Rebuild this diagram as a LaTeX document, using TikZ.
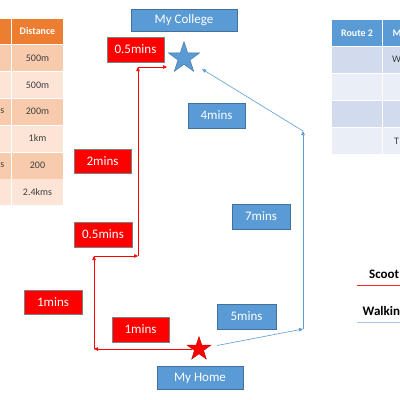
\documentclass[tikz,border=0pt]{standalone}
\usepackage{fontspec}
\setmainfont{Carlito}
\usepackage{tikz}
\usetikzlibrary{shapes.geometric, arrows.meta}
\usepackage{xcolor}
\definecolor{offblue}{HTML}{5B9BD5}
\definecolor{offblueline}{HTML}{41719C}
\definecolor{offorange}{HTML}{ED7D31}
\definecolor{peachdark}{HTML}{F8CBAD}
\definecolor{peachlight}{HTML}{FCE4D6}
\definecolor{bluedark}{HTML}{D2DBEE}
\definecolor{bluelight}{HTML}{EAEEF7}
\definecolor{walkline}{HTML}{A9C8E8}
\definecolor{cellink}{HTML}{404040}

\begin{document}
\begin{tikzpicture}[x=1pt, y=-1pt,
  place/.style={rectangle, draw=offblueline, fill=offblue, text=white, minimum height=22pt, font=\fontsize{13}{15}\selectfont},
  bluebox/.style={rectangle, draw=offblueline, fill=offblue, text=white, minimum width=58pt, minimum height=25pt, font=\fontsize{13}{15}\selectfont},
  redbox/.style={rectangle, draw=gray, fill=red, text=white, minimum width=58pt, minimum height=25pt, font=\fontsize{13}{15}\selectfont},
  starmark/.style={star, star points=5, star point ratio=2.6, inner sep=0pt},
  scoot/.style={-{Triangle[length=4pt, width=3.5pt]}, red, line width=0.6pt},
  walk/.style={-{Triangle[length=4pt, width=3.5pt]}, offblue, line width=0.6pt},
  celltext/.style={text=cellink, font=\fontsize{10}{12}\selectfont},
  headtext/.style={text=white, font=\bfseries\fontsize{10}{12}\selectfont},
  legendtext/.style={anchor=west, inner sep=0pt, font=\bfseries\fontsize{13}{15}\selectfont}
]
  \useasboundingbox[fill=white] (0,0) rectangle (400,400);

  % left table
  \fill[offorange] (-1,19) rectangle (11,44);
  \fill[offorange] (12,19) rectangle (63,44);
  \foreach \top/\c in {45/peachdark, 72/peachlight, 99/peachdark, 126/peachlight, 153/peachdark, 179/peachlight} {
    \fill[\c] (-1,\top) rectangle (11,\top+26);
    \fill[\c] (12,\top) rectangle (63,\top+26);
  }
  \node[headtext] (dist) at (37.5,31.5) {Distance};
  \foreach \val [count=\i] in {500m, 500m, 200m, 1km, 200, 2.4kms}
    \node[celltext] (d\i) at (37.5,31.5+26.7*\i) {\val};
  \node[celltext, anchor=east, inner sep=0pt] (m3) at (4.5,111.5) {s};
  \node[celltext, anchor=east, inner sep=0pt] (m5) at (4.5,165) {s};

  % right table
  \fill[offblue] (332,20) rectangle (382,46);
  \fill[offblue] (383,20) rectangle (401,46);
  \foreach \top/\c in {47/bluedark, 74/bluelight, 101/bluedark, 128/bluelight} {
    \fill[\c] (332,\top) rectangle (382,\top+26);
    \fill[\c] (383,\top) rectangle (401,\top+26);
  }
  \node[headtext] (route) at (357,33) {Route 2};
  \node[headtext, anchor=west, inner sep=0pt] (mode) at (392.5,33) {M};
  \node[celltext, anchor=west, inner sep=0pt] (w1) at (392,59) {W};
  \node[celltext, anchor=west, inner sep=0pt] (t4) at (394,141) {T};

  % places
  \node[place, minimum width=106pt] (college) at (184,20) {My College};
  \node[place, minimum width=86pt, minimum height=23pt] (home) at (200,378) {My Home};
  \node[starmark, fill=offblue, draw=offblueline, minimum size=33pt] (cstar) at (184,58) {};
  \node[starmark, fill=red, draw=red!75!black, minimum size=25pt] (hstar) at (199,349) {};

  % scooter route
  \coordinate (r1) at (94,349);
  \coordinate (r2) at (94,256);
  \coordinate (r3) at (138,256);
  \coordinate (r4) at (138,67);
  \coordinate (r5) at (167,67);
  \draw[scoot] (hstar) -- (r1);
  \draw[scoot] (r1) -- (r2);
  \draw[scoot] (r2) -- (r3);
  \draw[scoot] (r3) -- (r4);
  \draw[scoot] (r4) -- (r5);

  % walking route
  \coordinate (b1) at (303,329);
  \coordinate (b2) at (303,131);
  \draw[walk, shorten <=9pt] (hstar) -- (b1);
  \draw[walk] (b1) -- (b2);
  \draw[walk, shorten >=13pt] (b2) -- (cstar);

  % times
  \node[redbox, minimum width=57pt] (t1) at (135.5,49.5) {0.5mins};
  \node[redbox, minimum width=57pt, minimum height=24pt] (t2) at (102.5,161) {2mins};
  \node[redbox] (t3) at (103,234.5) {0.5mins};
  \node[redbox, minimum height=24pt] (t4) at (53,302) {1mins};
  \node[redbox, minimum width=57pt] (t5) at (140.5,329.5) {1mins};
  \node[bluebox, minimum width=57pt] (w1) at (216.5,115.5) {4mins};
  \node[bluebox] (w2) at (261,216.5) {7mins};
  \node[bluebox, minimum width=59pt] (w3) at (246.5,316.5) {5mins};

  % legend
  \node[legendtext] (lscoot) at (369,274) {Scoot};
  \draw[red!85!white, line width=0.8pt] (357,285) -- (401,285);
  \node[legendtext] (lwalk) at (362.5,311) {Walkin};
  \draw[walkline, line width=0.8pt] (357,322) -- (401,322);
\end{tikzpicture}
\end{document}
